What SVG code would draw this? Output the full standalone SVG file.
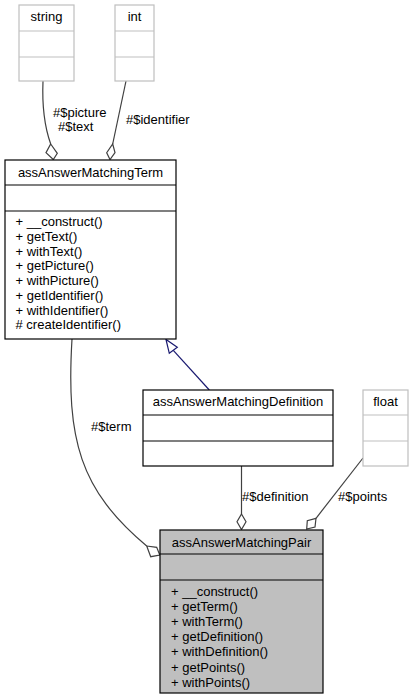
<svg xmlns="http://www.w3.org/2000/svg" width="415" height="700" viewBox="0 0 415 700">
<style>
text{font-family:"Liberation Sans",Arial,sans-serif;font-size:13px;fill:#000}
.c{text-anchor:middle}
.box{fill:#fff;stroke:#000;stroke-width:1.2}
.ext{fill:#fff;stroke:#bfbfbf;stroke-width:1.2}
.cur{fill:#bfbfbf;stroke:#000;stroke-width:1.2}
.sep{stroke:#000;stroke-width:1.2}
.esep{stroke:#bfbfbf;stroke-width:1.2}
.e{fill:none;stroke:#404040;stroke-width:1.2}
.dia{fill:#fff;stroke:#404040;stroke-width:1.2}
.gen{fill:none;stroke:#191970;stroke-width:1.2}
.tri{fill:#fff;stroke:#191970;stroke-width:1.2}
</style>
<g id="edges">
<path class="e" d="M43,81 C42,105 45,128 50.7,144"/>
<polygon class="dia" points="50.7,144 57.3,153.3 53.3,159.5 46,152.7"/>
<text x="53" y="117">#$picture</text>
<text x="58" y="131">#$text</text>
<path class="e" d="M126,81 L112.7,144"/>
<polygon class="dia" points="112.7,144 115,152.7 110,159.5 106.7,152.7"/>
<text x="126" y="123.5">#$identifier</text>
<path class="gen" d="M209.3,390 L173.3,350.3"/>
<polygon class="tri" points="166,339.5 169.3,353.3 177.3,347.3"/>
<path class="e" d="M72,339 C66,440 80,490 146.7,546"/>
<polygon class="dia" points="146.7,546 156.7,547.3 159.8,555 150.7,556.7"/>
<text x="91" y="431">#$term</text>
<path class="e" d="M241.5,466 L241.5,514"/>
<polygon class="dia" points="241.5,514 246,521.8 241.5,529.5 237,521.8"/>
<text x="242" y="500.7">#$definition</text>
<path class="e" d="M363,458 L316,518.3"/>
<polygon class="dia" points="316,518.3 315,527 306.7,529 307.3,520.7"/>
<text x="338" y="500.7">#$points</text>
</g>
<g id="node-string">
<rect class="ext" x="19" y="5" width="55" height="76"/>
<line class="esep" x1="19" y1="31" x2="74" y2="31"/>
<line class="esep" x1="19" y1="57" x2="74" y2="57"/>
<text class="c" x="46.5" y="21">string</text>
</g>
<g id="node-int">
<rect class="ext" x="115" y="5" width="39" height="76"/>
<line class="esep" x1="115" y1="31" x2="154" y2="31"/>
<line class="esep" x1="115" y1="57" x2="154" y2="57"/>
<text class="c" x="134.5" y="21">int</text>
</g>
<g id="node-term">
<rect class="box" x="5" y="160" width="171" height="179"/>
<line class="sep" x1="5" y1="185" x2="176" y2="185"/>
<line class="sep" x1="5" y1="211" x2="176" y2="211"/>
<text class="c" x="90.5" y="177">assAnswerMatchingTerm</text>
<text x="15.5" y="226">+ __construct()</text>
<text x="15.5" y="240.75">+ getText()</text>
<text x="15.5" y="255.5">+ withText()</text>
<text x="15.5" y="270.25">+ getPicture()</text>
<text x="15.5" y="285">+ withPicture()</text>
<text x="15.5" y="299.75">+ getIdentifier()</text>
<text x="15.5" y="314.5">+ withIdentifier()</text>
<text x="15.5" y="329.25"># createIdentifier()</text>
</g>
<g id="node-definition">
<rect class="box" x="143" y="390" width="190" height="76"/>
<line class="sep" x1="143" y1="415" x2="333" y2="415"/>
<line class="sep" x1="143" y1="441" x2="333" y2="441"/>
<text class="c" x="238" y="406">assAnswerMatchingDefinition</text>
</g>
<g id="node-float">
<rect class="ext" x="363" y="390" width="45" height="76"/>
<line class="esep" x1="363" y1="415" x2="408" y2="415"/>
<line class="esep" x1="363" y1="441" x2="408" y2="441"/>
<text class="c" x="385.5" y="406">float</text>
</g>
<g id="node-pair">
<rect class="cur" x="160" y="530" width="163" height="163"/>
<line class="sep" x1="160" y1="554" x2="323" y2="554"/>
<line class="sep" x1="160" y1="580" x2="323" y2="580"/>
<text class="c" x="241.5" y="547">assAnswerMatchingPair</text>
<text x="171" y="596">+ __construct()</text>
<text x="171" y="611.1">+ getTerm()</text>
<text x="171" y="626.2">+ withTerm()</text>
<text x="171" y="641.3">+ getDefinition()</text>
<text x="171" y="656.4">+ withDefinition()</text>
<text x="171" y="671.5">+ getPoints()</text>
<text x="171" y="686.6">+ withPoints()</text>
</g>
</svg>
